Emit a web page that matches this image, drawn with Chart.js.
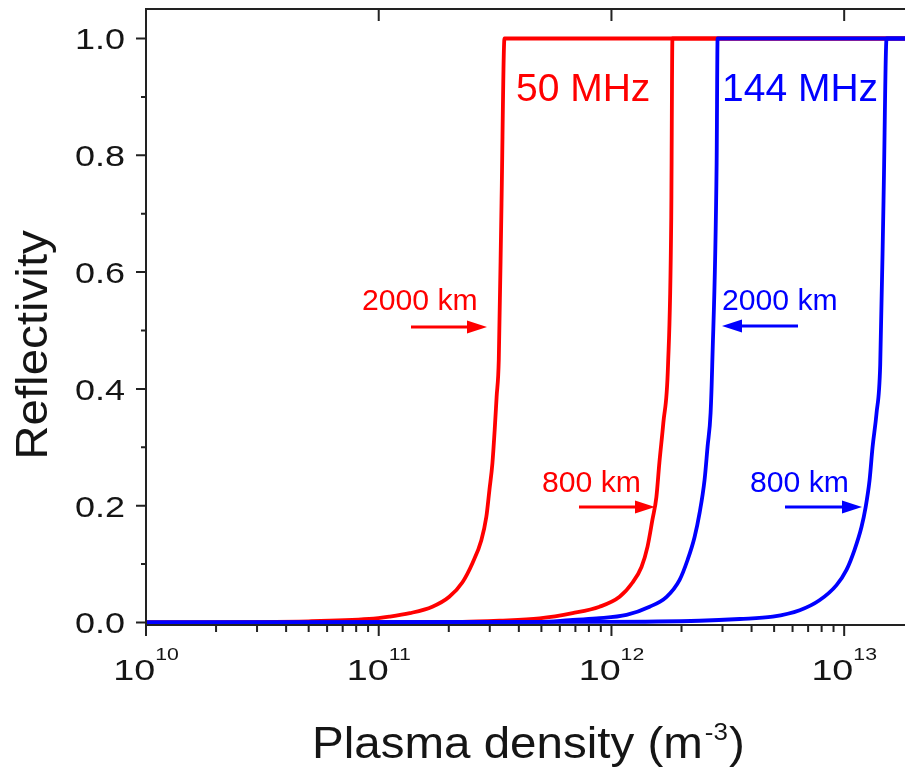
<!DOCTYPE html>
<html>
<head>
<meta charset="utf-8">
<script src="https://cdn.jsdelivr.net/npm/chart.js@4.4.0/dist/chart.umd.min.js"></script>
<style>
  html, body { margin: 0; padding: 0; background: #fff; overflow: hidden; }
  canvas { display: block; }
</style>
</head>
<body>
<canvas id="myChart" width="930" height="769"></canvas>
<script>
  // plasma density (m^-3) and reflectivity
  const red2000X = [1e10, 5.0e10, 9.1e10, 1.11e11, 1.36e11, 1.70e11, 2.01e11, 2.29e11, 2.53e11, 2.76e11, 2.90e11, 2.99e11, 3.08e11, 3.15e11, 3.21e11, 3.28e11, 3.37e11, 3.47e11, 2e13];
  const red2000Y = [0.000, 0.002, 0.006, 0.010, 0.016, 0.027, 0.044, 0.069, 0.102, 0.141, 0.181, 0.227, 0.273, 0.330, 0.386, 0.450, 0.718, 1.0, 1.0];

  const red800X = [1e10, 2.29e11, 3.30e11, 4.91e11, 6.81e11, 8.89e11, 1.084e12, 1.230e12, 1.346e12, 1.429e12, 1.500e12, 1.560e12, 1.607e12, 1.671e12, 1.750e12, 1.807e12, 1.828e12, 2e13];
  const red800Y = [0.000, 0.001, 0.003, 0.007, 0.016, 0.027, 0.044, 0.068, 0.095, 0.130, 0.176, 0.215, 0.274, 0.342, 0.440, 0.694, 1.0, 1.0];

  const blue2000X = [1e10, 4.91e11, 6.61e11, 8.63e11, 1.161e12, 1.459e12, 1.726e12, 1.963e12, 2.123e12, 2.275e12, 2.393e12, 2.512e12, 2.588e12, 2.667e12, 2.710e12, 2.831e12, 2.858e12, 2e13];
  const blue2000Y = [0.000, 0.001, 0.004, 0.007, 0.013, 0.027, 0.044, 0.073, 0.107, 0.146, 0.188, 0.244, 0.301, 0.359, 0.440, 0.787, 1.0, 1.0];

  const blue800X = [1e10, 8.87e11, 2.39e12, 3.56e12, 4.93e12, 6.44e12, 7.83e12, 9.27e12, 1.023e13, 1.107e13, 1.186e13, 1.236e13, 1.285e13, 1.324e13, 1.377e13, 1.428e13, 1.476e13, 1.521e13, 2e13];
  const blue800Y = [0.000, 0.001, 0.003, 0.006, 0.010, 0.021, 0.038, 0.064, 0.090, 0.124, 0.163, 0.197, 0.243, 0.300, 0.358, 0.440, 0.723, 1.0, 1.0];

  const yTicks = [0, 0.2, 0.4, 0.6, 0.8, 1.0];
  const yMinorTicks = [0.1, 0.3, 0.5, 0.7, 0.9];
  const xDecades = [10, 11, 12, 13];
  const xMinorMantissa = [2, 3, 4, 5, 6, 7, 8, 9];

  const RED = 'rgb(255, 0, 0)';
  const BLUE = 'rgb(0, 0, 255)';
  const INK = '#151515';

  function pts(xs, ys) {
    return xs.map((x, i) => ({ x: x, y: ys[i] }));
  }

  function line(data, color) {
    return {
      data: data,
      borderColor: color,
      backgroundColor: color,
      borderWidth: 3.8,
      pointRadius: 0,
      showLine: true,
      cubicInterpolationMode: 'monotone',
      fill: false
    };
  }

  // text with a horizontal stretch factor
  function txt(ctx, s, x, y, font, color, sx, align) {
    ctx.save();
    ctx.translate(x, y);
    ctx.scale(sx, 1);
    ctx.font = font;
    ctx.fillStyle = color;
    ctx.textAlign = align || 'left';
    ctx.textBaseline = 'alphabetic';
    ctx.fillText(s, 0, 0);
    ctx.restore();
  }

  function arrow(ctx, x0, x1, y, color) {
    const dir = x1 > x0 ? 1 : -1;
    ctx.save();
    ctx.strokeStyle = color;
    ctx.fillStyle = color;
    ctx.lineWidth = 3;
    ctx.beginPath();
    ctx.moveTo(x0, y);
    ctx.lineTo(x1 - dir * 14, y);
    ctx.stroke();
    ctx.beginPath();
    ctx.moveTo(x1, y);
    ctx.lineTo(x1 - dir * 20, y - 6.5);
    ctx.lineTo(x1 - dir * 20, y + 6.5);
    ctx.closePath();
    ctx.fill();
    ctx.restore();
  }

  const axesPlugin = {
    id: 'originAxes',
    afterDatasetsDraw(chart) {
      const ctx = chart.ctx;
      const a = chart.chartArea;
      const xs = chart.scales.x;
      const ys = chart.scales.y;

      ctx.save();
      ctx.strokeStyle = '#222';
      ctx.lineWidth = 2;
      ctx.beginPath();
      ctx.moveTo(a.left, a.bottom);
      ctx.lineTo(a.left, a.top);
      ctx.lineTo(a.right, a.top);
      ctx.lineTo(a.right, a.bottom);
      ctx.lineTo(a.left, a.bottom);
      ctx.stroke();

      // y ticks
      ctx.beginPath();
      yTicks.forEach(v => {
        const p = ys.getPixelForValue(v);
        ctx.moveTo(a.left - 10, p);
        ctx.lineTo(a.left, p);
      });
      yMinorTicks.forEach(v => {
        const p = ys.getPixelForValue(v);
        ctx.moveTo(a.left - 5, p);
        ctx.lineTo(a.left, p);
      });
      // x ticks
      xDecades.forEach(d => {
        const p = xs.getPixelForValue(Math.pow(10, d));
        ctx.moveTo(p, a.bottom);
        ctx.lineTo(p, a.bottom + 11);
        ctx.moveTo(p, a.top);
        ctx.lineTo(p, a.top + 12);
        xMinorMantissa.forEach(m => {
          const q = xs.getPixelForValue(m * Math.pow(10, d));
          if (q > a.right) return;
          ctx.moveTo(q, a.bottom);
          ctx.lineTo(q, a.bottom + 7);
        });
      });
      ctx.stroke();
      ctx.restore();

      // y tick labels
      yTicks.forEach(v => {
        const p = ys.getPixelForValue(v);
        txt(ctx, v.toFixed(1), 125, p + 11, '30px "Liberation Sans", Arial, sans-serif', INK, 1.2, 'right');
      });

      // x tick labels: 10 with superscript exponent
      xDecades.forEach(d => {
        const p = xs.getPixelForValue(Math.pow(10, d));
        const baseFont = '29px "Liberation Sans", Arial, sans-serif';
        const supFont = '17px "Liberation Sans", Arial, sans-serif';
        ctx.font = baseFont;
        const wb = ctx.measureText('10').width * 1.3;
        ctx.font = supFont;
        const ws = ctx.measureText(String(d)).width * 1.25;
        const x0 = p - (wb + ws) / 2;
        txt(ctx, '10', x0, 680, baseFont, INK, 1.3, 'left');
        txt(ctx, String(d), x0 + wb, 660, supFont, INK, 1.25, 'left');
      });

      // axis titles
      const tFont = '44px "Liberation Sans", Arial, sans-serif';
      const sFont = '24px "Liberation Sans", Arial, sans-serif';
      ctx.font = tFont;
      const w1 = ctx.measureText('Plasma density (m').width * 1.08;
      ctx.font = sFont;
      const w2 = ctx.measureText('-3').width * 1.08;
      const tx = 312;
      txt(ctx, 'Plasma density (m', tx, 758, tFont, INK, 1.08, 'left');
      txt(ctx, '-3', tx + w1 + 2, 740, sFont, INK, 1.08, 'left');
      txt(ctx, ')', tx + w1 + w2 + 3, 758, tFont, INK, 1.08, 'left');

      ctx.save();
      ctx.translate(47, 345);
      ctx.rotate(-Math.PI / 2);
      txt(ctx, 'Reflectivity', 0, 0, tFont, INK, 1.08, 'center');
      ctx.restore();

      // annotations
      const bigFont = '39px "Liberation Sans", Arial, sans-serif';
      const kmFont = '29px "Liberation Sans", Arial, sans-serif';
      txt(ctx, '50 MHz', 516, 101, bigFont, RED, 1.0, 'left');
      txt(ctx, '144 MHz', 722, 101, bigFont, BLUE, 1.0, 'left');
      txt(ctx, '2000 km', 362, 310, kmFont, RED, 1.04, 'left');
      txt(ctx, '2000 km', 722, 310, kmFont, BLUE, 1.04, 'left');
      txt(ctx, '800 km', 542, 492, kmFont, RED, 1.04, 'left');
      txt(ctx, '800 km', 750, 492, kmFont, BLUE, 1.04, 'left');
      arrow(ctx, 411, 487, 327, RED);
      arrow(ctx, 798, 722, 326, BLUE);
      arrow(ctx, 579, 655, 507, RED);
      arrow(ctx, 785, 862, 507, BLUE);
    }
  };

  const data = {
    datasets: [
      line(pts(blue800X, blue800Y), BLUE),
      line(pts(blue2000X, blue2000Y), BLUE),
      line(pts(red800X, red800Y), RED),
      line(pts(red2000X, red2000Y), RED)
    ]
  };

  const config = {
    type: 'scatter',
    data: data,
    options: {
      responsive: false,
      animation: false,
      layout: { padding: { left: 146, top: 9, right: 16, bottom: 144 } },
      plugins: {
        legend: { display: false },
        tooltip: { enabled: false }
      },
      scales: {
        x: {
          type: 'logarithmic',
          min: 1e10,
          max: Math.pow(10, 13.3),
          display: false
        },
        y: {
          type: 'linear',
          min: -0.0043,
          max: 1.0505,
          display: false
        }
      }
    },
    plugins: [axesPlugin]
  };

  const myChart = new Chart(
    document.getElementById('myChart'),
    config
  );
</script>
</body>
</html>
